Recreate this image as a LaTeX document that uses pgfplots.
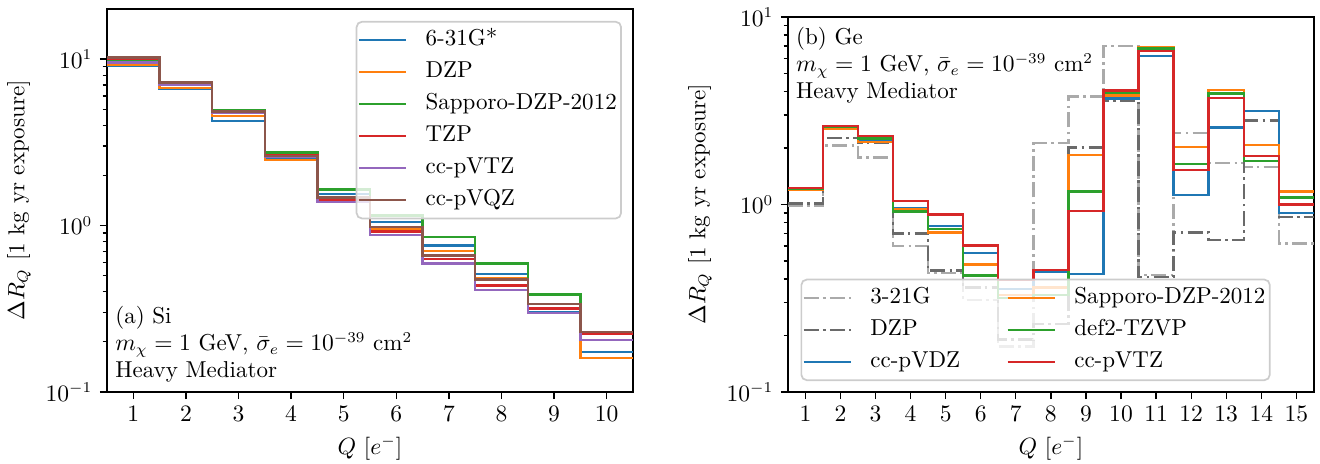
\documentclass[border=0pt]{standalone}
\usepackage{pgfplots}
\usepackage{pgfplotstable}
\pgfplotsset{compat=1.18}
\definecolor{c0}{HTML}{1F77B4}
\definecolor{c1}{HTML}{FF7F0E}
\definecolor{c2}{HTML}{2CA02C}
\definecolor{c3}{HTML}{D62728}
\definecolor{c4}{HTML}{9467BD}
\definecolor{c5}{HTML}{8C564B}
\definecolor{gA}{HTML}{AAAAAA}
\definecolor{gD}{HTML}{6A6A6A}

\pgfplotstableread{
edge b o g r p br
0.5 9.07 9.2 9.73 10.1 9.55 10.2
1.5 6.6 6.72 7.1 7.2 7.0 7.24
2.5 4.24 4.55 4.91 4.83 4.75 4.84
3.5 2.54 2.47 2.75 2.65 2.57 2.62
4.5 1.55 1.44 1.65 1.42 1.38 1.47
5.5 1.05 0.946 1.15 0.92 0.88 0.98
6.5 0.76 0.70 0.85 0.63 0.59 0.66
7.5 0.51 0.484 0.59 0.437 0.41 0.473
8.5 0.30 0.297 0.385 0.318 0.298 0.339
9.5 0.174 0.160 0.228 0.224 0.206 0.230
10.5 0.174 0.160 0.228 0.224 0.206 0.230
}\tabSi

\pgfplotstableread{
edge a d b o g r
0.5 0.98 1.01 1.22 1.19 1.21 1.22
1.5 2.06 2.27 2.58 2.53 2.59 2.63
2.5 1.78 2.12 2.20 2.15 2.25 2.32
3.5 0.60 0.70 0.95 0.94 0.916 1.045
4.5 0.43 0.445 0.77 0.71 0.74 0.883
5.5 0.31 0.36 0.55 0.478 0.417 0.605
6.5 0.175 0.19 0.353 0.33 0.318 0.395
7.5 2.12 0.23 0.435 0.36 0.33 0.448
8.5 3.76 2.01 0.425 1.84 1.17 0.92
9.5 7.0 3.58 3.67 3.82 3.95 4.06
10.5 0.42 0.41 6.19 6.94 6.8 6.61
11.5 2.41 0.71 1.12 2.03 1.64 1.53
12.5 1.67 0.644 2.57 4.08 3.90 3.71
13.5 1.59 2.81 3.15 2.07 1.71 1.81
14.5 0.62 0.855 0.90 1.17 1.09 1.0
15.5 0.62 0.855 0.90 1.17 1.09 1.0
}\tabGe

\tikzset{
  sA/.style={color=gA, dash pattern=on 7pt off 2pt on 1.2pt off 2pt},
  sD/.style={color=gD, dash pattern=on 7pt off 2pt on 1.2pt off 2pt},
}
\pgfplotsset{
  mystyle/.style={
    scale only axis,
    tick align=outside,
    xtick pos=bottom, ytick pos=left,
    major tick length=3.3pt, minor tick length=2pt,
    every tick/.style={black, line width=0.6pt},
    axis line style={line width=0.8pt},
    tick label style={font=\fontsize{10.7}{12}\selectfont},
    label style={font=\fontsize{10.7}{12}\selectfont},
    xlabel={$Q$ [$e^-$]},
    ylabel={$\Delta R_Q$ [1 kg yr exposure]},
    every axis plot/.append style={line width=1.1pt, const plot mark left},
    legend image code/.code={\draw[#1] (0pt,0pt) -- (22pt,0pt); \path (29pt,0pt);},
    legend cell align=left,
    legend style={
      draw=black!20, fill=white, fill opacity=0.8, text opacity=1, draw opacity=1,
      rounded corners=2.5pt, line width=0.8pt,
      inner xsep=0.5pt, inner ysep=2pt,
      nodes={inner sep=1.5pt, text height=7.5pt, text depth=2.5pt},
      row sep=1.9pt,
      font=\fontsize{10.7}{13}\selectfont,
    },
  },
}

\begin{document}
\begin{tikzpicture}
\begin{axis}[mystyle, ymode=log,
  at={(0pt,0pt)}, anchor=south west,
  width=244.65pt, height=178.1pt,
  xmin=0.5, xmax=10.5, ymin=0.1, ymax=20,
  xtick={1,...,10},
  legend style={at={(0.979,0.969)}, anchor=north east},
]
\addplot[c0, no markers] table[x=edge, y=b] {\tabSi}; \addlegendentry{6-31G*}
\addplot[c1, no markers] table[x=edge, y=o] {\tabSi}; \addlegendentry{DZP}
\addplot[c2, no markers] table[x=edge, y=g] {\tabSi}; \addlegendentry{Sapporo-DZP-2012}
\addplot[c3, no markers] table[x=edge, y=r] {\tabSi}; \addlegendentry{TZP}
\addplot[c4, no markers] table[x=edge, y=p] {\tabSi}; \addlegendentry{cc-pVTZ}
\addplot[c5, no markers] table[x=edge, y=br] {\tabSi}; \addlegendentry{cc-pVQZ}
\node[anchor=south west, align=left, inner sep=0pt, font=\fontsize{10.7}{12.6}\selectfont]
  at (rel axis cs:0.015,0.023)
  {(a) Si\\$m_\chi = 1$ GeV, $\bar{\sigma}_e = 10^{-39}$ cm$^2$\\Heavy Mediator};
\end{axis}

\begin{axis}[mystyle, ymode=log,
  at={(316.7pt,0pt)}, anchor=south west,
  width=244.65pt, height=174.4pt,
  xmin=0.5, xmax=15.5, ymin=0.1, ymax=10,
  xtick={1,...,15},
  legend columns=2,
  legend style={at={(0.024,0.029)}, anchor=south west,
    /tikz/every even column/.append style={column sep=20pt}},
]
\addplot[sA, no markers, forget plot] table[x=edge, y=a] {\tabGe};
\addplot[sD, no markers, forget plot] table[x=edge, y=d] {\tabGe};
\addplot[c0, no markers, forget plot] table[x=edge, y=b] {\tabGe};
\addplot[c1, no markers, forget plot] table[x=edge, y=o] {\tabGe};
\addplot[c2, no markers, forget plot] table[x=edge, y=g] {\tabGe};
\addplot[c3, no markers, forget plot] table[x=edge, y=r] {\tabGe};
\addlegendimage{sA, line width=1.1pt}\addlegendentry{3-21G}
\addlegendimage{c1, line width=1.1pt}\addlegendentry{Sapporo-DZP-2012}
\addlegendimage{sD, line width=1.1pt}\addlegendentry{DZP}
\addlegendimage{c2, line width=1.1pt}\addlegendentry{def2-TZVP}
\addlegendimage{c0, line width=1.1pt}\addlegendentry{cc-pVDZ}
\addlegendimage{c3, line width=1.1pt}\addlegendentry{cc-pVTZ}
\node[anchor=north west, align=left, inner sep=0pt, font=\fontsize{10.7}{12.6}\selectfont]
  at (rel axis cs:0.015,0.973)
  {(b) Ge\\$m_\chi = 1$ GeV, $\bar{\sigma}_e = 10^{-39}$ cm$^2$\\Heavy Mediator};
\end{axis}
\pgfresetboundingbox
\path[use as bounding box] (-49.77pt,-33.5pt) rectangle (564.2pt,182.3pt);
\end{tikzpicture}
\end{document}
